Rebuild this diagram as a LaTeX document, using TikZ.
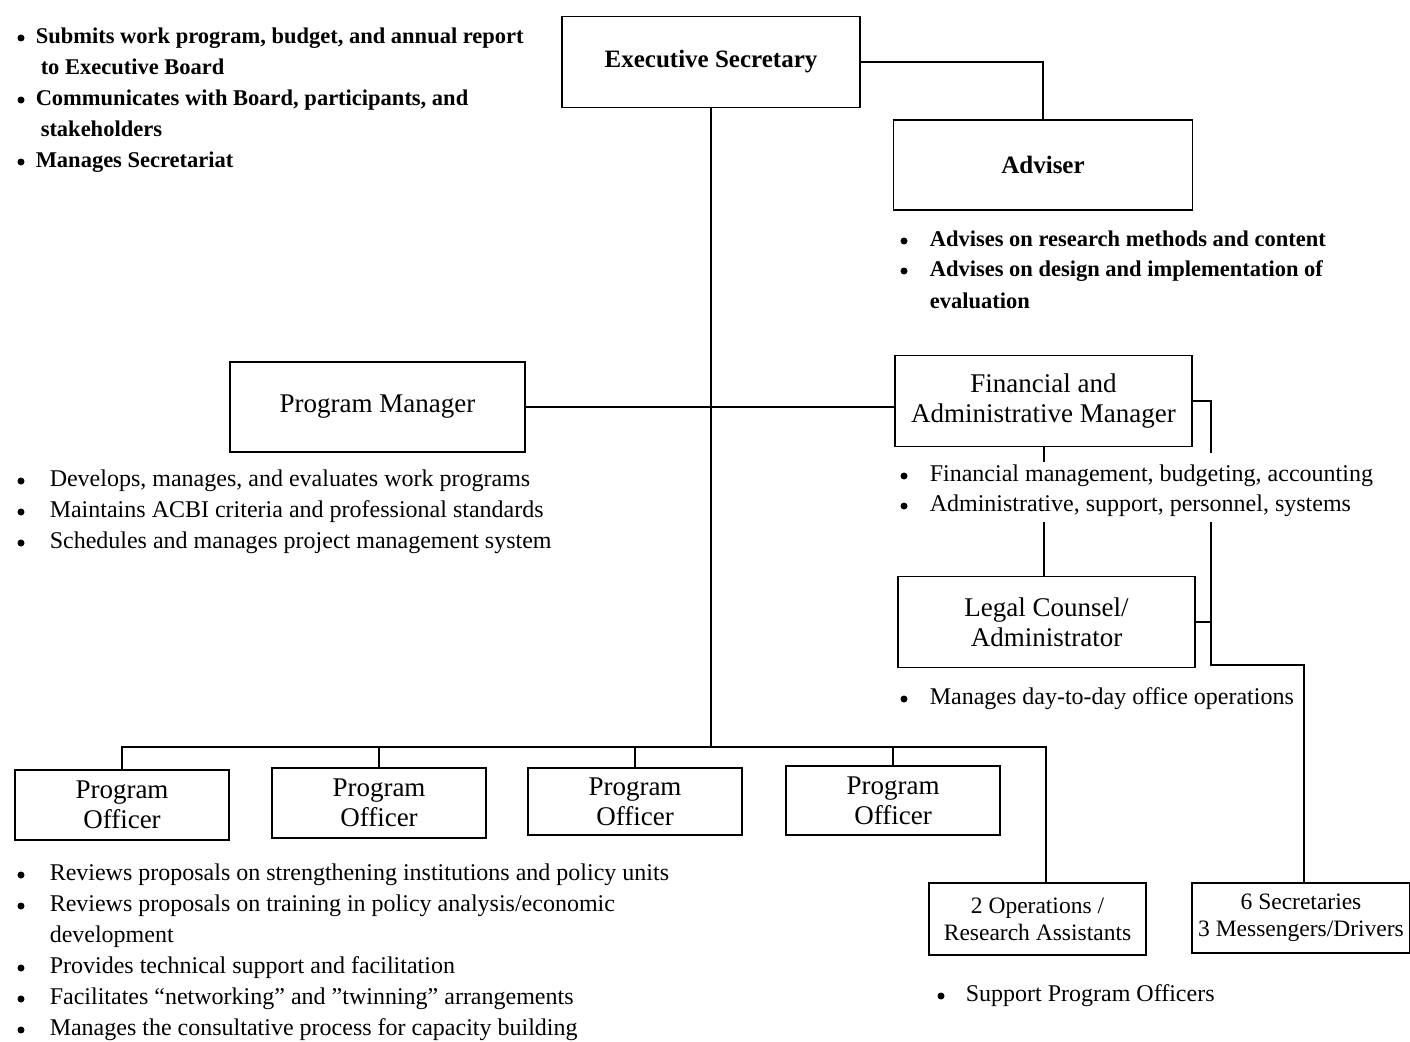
\documentclass[tikz,border=0pt]{standalone}
\usepackage{fontspec}
\setmainfont{Liberation Serif}
\begin{document}
\begin{tikzpicture}[x=1pt,y=-1pt,
  line width=1.5pt,
  box/.style={draw, line width=1.5pt, inner sep=0pt, align=center, font=\fontsize{27}{30}\selectfont},
  sbox/.style={draw, line width=1.5pt, inner sep=0pt, align=center, font=\fontsize{23.5}{27}\selectfont},
  txt/.style={anchor=west, inner sep=0pt, text height=16pt, text depth=5pt, font=\fontsize{24}{28}\selectfont},
  btxt/.style={txt, font=\fontsize{22.5}{27}\selectfont\bfseries},
  dot/.style={circle, fill=black, draw=none, inner sep=0pt, minimum size=7pt}
]
\useasboundingbox (0,0) rectangle (1410,1041);
\fill[white] (0,0) rectangle (1410,1041);

% ---------- boxes ----------
\node[box, minimum width=298, minimum height=91, font=\fontsize{25}{30}\selectfont\bfseries] (es) at (711,62) {Executive Secretary};
\node[box, minimum width=299, minimum height=90, font=\fontsize{25}{30}\selectfont\bfseries] (adv) at (1043,165) {Adviser};
\node[box, minimum width=295, minimum height=90] (pm) at (377.5,407) {Program Manager};
\node[box, minimum width=297, minimum height=91] (fam) at (1043.5,401) {Financial and\\Administrative Manager};
\node[box, minimum width=297, minimum height=91] (lc) at (1046.5,622) {Legal Counsel/\\Administrator};
\node[box, minimum width=214, minimum height=70] (po1) at (122,805) {Program\\Officer};
\node[box, minimum width=214, minimum height=70] (po2) at (379,803) {Program\\Officer};
\node[box, minimum width=214, minimum height=67] (po3) at (635,801.5) {Program\\Officer};
\node[box, minimum width=214, minimum height=69] (po4) at (893,800.5) {Program\\Officer};
\node[sbox, minimum width=217, minimum height=72] (ops) at (1037.5,919) {2 Operations /\\Research Assistants};
\node[sbox, minimum width=218, minimum height=70] (sec) at (1301,918) {6 Secretaries\\3 Messengers/Drivers};

% ---------- connectors ----------
\coordinate (bus) at (711,747);
\coordinate (busR) at (1046,747);
\coordinate (rtop) at (1211,453);
\coordinate (rmid) at (1211,522);
\coordinate (rcorner) at (1211,665);
\coordinate (secx) at (1304,665);
\coordinate (famstub) at (1044,462);
\coordinate (lcstub) at (1044,522);

\draw (es.east) -| (adv.north);
\draw (es.south) -- (bus);
\draw (pm.east) -- (pm.east -| fam.west);
\draw (fam.south -| famstub) -- (famstub);
\draw (lcstub) -- (lcstub |- lc.north);
\draw (fam.east) -| (rtop);
\draw (rmid) -- (rcorner) -- (secx) -- (secx |- sec.north);
\draw (lc.east) -- (lc.east -| rcorner);
\draw (po1.north) |- (busR) -- (busR |- ops.north);
\draw (po2.north) -- (po2.north |- bus);
\draw (po3.north) -- (po3.north |- bus);
\draw (po4.north) -- (po4.north |- bus);

% ---------- bullet texts ----------
% Executive Secretary
\node[dot] (d1) at (21,38) {};
\node[btxt] (t1) at (35,38) {Submits work program, budget, and annual report};
\node[btxt] (t1b) at (40,69) {to Executive Board};
\node[dot] (d2) at (21,100) {};
\node[btxt] (t2) at (35,100) {Communicates with Board, participants, and};
\node[btxt] (t2b) at (40,131) {stakeholders};
\node[dot] (d3) at (21,162) {};
\node[btxt] (t3) at (35,162) {Manages Secretariat};

% Adviser
\node[dot] (d4) at (904,241) {};
\node[btxt] (t4) at (929,241) {Advises on research methods and content};
\node[dot] (d5) at (904,271) {};
\node[btxt] (t5) at (929,271) {Advises on design and implementation of};
\node[btxt] (t5b) at (929,303) {evaluation};

% Program Manager
\node[dot] (d6) at (21,481) {};
\node[txt] (t6) at (49,481) {Develops, manages, and evaluates work programs};
\node[dot] (d7) at (21,512) {};
\node[txt] (t7) at (49,512) {Maintains ACBI criteria and professional standards};
\node[dot] (d8) at (21,543) {};
\node[txt] (t8) at (49,543) {Schedules and manages project management system};

% Financial and Administrative Manager
\node[dot] (d9) at (904,476) {};
\node[txt] (t9) at (929,476) {Financial management, budgeting, accounting};
\node[dot] (d10) at (904,506) {};
\node[txt] (t10) at (929,506) {Administrative, support, personnel, systems};

% Legal Counsel
\node[dot] (d11) at (904,699) {};
\node[txt] (t11) at (929,699) {Manages day-to-day office operations};

% Program Officers
\node[dot] (d12) at (21,875) {};
\node[txt] (t12) at (49,875) {Reviews proposals on strengthening institutions and policy units};
\node[dot] (d13) at (21,906) {};
\node[txt] (t13) at (49,906) {Reviews proposals on training in policy analysis/economic};
\node[txt] (t13b) at (49,937) {development};
\node[dot] (d14) at (21,968) {};
\node[txt] (t14) at (49,968) {Provides technical support and facilitation};
\node[dot] (d15) at (21,999) {};
\node[txt] (t15) at (49,999) {Facilitates ``networking'' and ''twinning'' arrangements};
\node[dot] (d16) at (21,1030) {};
\node[txt] (t16) at (49,1030) {Manages the consultative process for capacity building};

% Support
\node[dot] (d17) at (941,996) {};
\node[txt] (t17) at (965,996) {Support Program Officers};
\end{tikzpicture}
\end{document}
